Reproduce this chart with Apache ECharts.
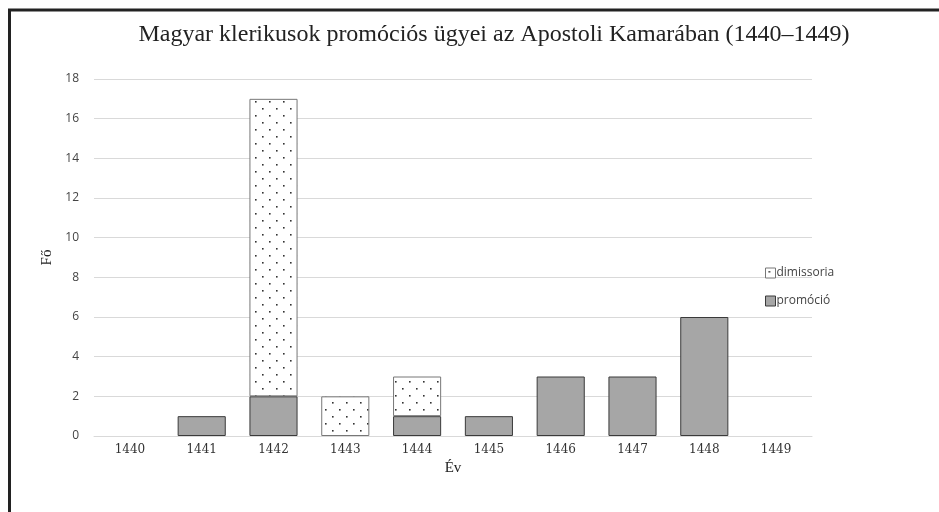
<!DOCTYPE html>
<html>
<head>
<meta charset="utf-8">
<script src="https://cdn.jsdelivr.net/npm/echarts@6/dist/echarts.min.js"></script>
<style>
  html, body { margin: 0; padding: 0; background: #fff; }
  #main { width: 939px; height: 512px; }
</style>
</head>
<body>
<div id="main"></div>
<script>
// évek és értékek
const years = ['1440', '1441', '1442', '1443', '1444', '1445', '1446', '1447', '1448', '1449']
const promocio = [0, 1, 2, 0, 1, 1, 3, 3, 6, 0]
const dimissoria = [0, 0, 15, 2, 2, 0, 0, 0, 0, 0]
const yTicks = [0, 2, 4, 6, 8, 10, 12, 14, 16, 18]

// nulla értéknél ne rajzoljon oszlopot
const noZero = arr => arr.map(v => (v === 0 ? '-' : v))

// pontozott minta a dimissoria oszlopokhoz
function dotPattern() {
  const c = document.createElement('canvas')
  c.width = 14
  c.height = 14
  const ctx = c.getContext('2d')
  ctx.fillStyle = '#fff'
  ctx.fillRect(0, 0, 14, 14)
  ctx.fillStyle = '#333'
  ctx.fillRect(3, 3, 1.6, 1.6)
  ctx.fillRect(10, 10, 1.6, 1.6)
  return c
}

const chart = echarts.init(document.getElementById('main'))
const option = {
  animation: false,
  title: {
    text: 'Magyar klerikusok promóciós ügyei az Apostoli Kamarában (1440–1449)',
    left: 489,
    top: 18,
    textAlign: 'center',
    textStyle: {
      fontFamily: 'Liberation Serif',
      fontWeight: 'normal',
      fontSize: 24,
      color: '#222'
    }
  },
  legend: {
    orient: 'vertical',
    left: 760,
    top: 262,
    icon: 'rect',
    itemWidth: 10,
    itemHeight: 10,
    itemGap: 16,
    itemStyle: { borderWidth: 1 },
    textStyle: {
      fontFamily: 'Open Sans',
      fontSize: 12,
      color: '#444',
      padding: [0, 0, 0, -4]
    },
    data: ['dimissoria', 'promóció']
  },
  grid: {
    left: 94,
    right: 939 - 812,
    top: 79,
    bottom: 512 - 436,
    containLabel: false
  },
  xAxis: {
    type: 'category',
    data: years,
    name: 'Év',
    nameLocation: 'middle',
    nameGap: 25,
    nameTextStyle: { fontFamily: 'Liberation Serif', fontSize: 15, color: '#222' },
    axisTick: { show: false },
    axisLine: { lineStyle: { color: '#d9d9d9' } },
    axisLabel: {
      margin: 8,
      fontFamily: 'DejaVu Serif',
      fontSize: 12,
      color: '#333'
    }
  },
  yAxis: {
    type: 'value',
    min: yTicks[0],
    max: yTicks[yTicks.length - 1],
    interval: 2,
    name: 'Fő',
    nameLocation: 'middle',
    nameGap: 38,
    nameRotate: 90,
    nameTextStyle: { fontFamily: 'Liberation Serif', fontSize: 15, color: '#222' },
    axisLabel: {
      margin: 15,
      fontFamily: 'Open Sans',
      fontSize: 12,
      color: '#444'
    },
    axisLine: { show: false },
    axisTick: { show: false },
    splitLine: { lineStyle: { color: '#d9d9d9' } }
  },
  series: [
    {
      name: 'promóció',
      type: 'bar',
      stack: 'total',
      barCategoryGap: '33%',
      data: noZero(promocio),
      itemStyle: {
        color: '#a6a6a6',
        borderColor: '#3a3a3a',
        borderWidth: 1
      }
    },
    {
      name: 'dimissoria',
      type: 'bar',
      stack: 'total',
      data: noZero(dimissoria),
      itemStyle: {
        color: { image: dotPattern(), repeat: 'repeat' },
        borderColor: '#777',
        borderWidth: 1
      }
    }
  ],
  graphic: [
    {
      type: 'polyline',
      shape: { points: [[9.5, 512], [9.5, 10], [939, 10]] },
      style: { stroke: '#222', lineWidth: 3, fill: null }
    }
  ]
}
chart.setOption(option)
</script>
</body>
</html>
